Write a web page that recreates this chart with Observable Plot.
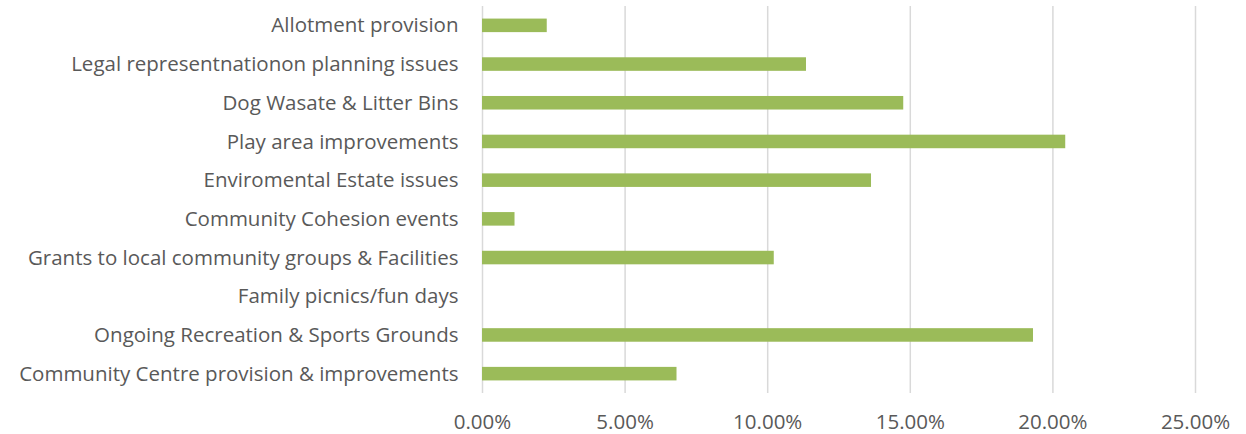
<!DOCTYPE html>
<html>
<head>
<meta charset="utf-8">
<script src="https://cdn.jsdelivr.net/npm/d3@7"></script>
<script src="https://cdn.jsdelivr.net/npm/@observablehq/plot@0.6"></script>
<style>
  html, body { margin: 0; padding: 0; background: #fff; }
</style>
</head>
<body>
<div id="chart"></div>
<script>
// Funding priorities, share of responses (%)
const categories = [
  "Allotment provision",
  "Legal representnationon planning issues",
  "Dog Wasate & Litter Bins",
  "Play area improvements",
  "Enviromental Estate issues",
  "Community Cohesion events",
  "Grants to local community groups & Facilities",
  "Family picnics/fun days",
  "Ongoing Recreation & Sports Grounds",
  "Community Centre provision & improvements"
];
const shares = [2.27, 11.36, 14.77, 20.45, 13.64, 1.14, 10.23, 0, 19.32, 6.82];
const xTicks = [0, 5, 10, 15, 20, 25];

const rows = categories.map((c, i) => ({category: c, share: shares[i]}));

const font = "'Open Sans', Lato, sans-serif";

const chart = Plot.plot({
  width: 1246,
  height: 434,
  marginLeft: 482,
  marginRight: 51,
  marginTop: 6,
  marginBottom: 41,
  style: {
    fontFamily: font,
    fontSize: "20.5px",
    color: "#595959",
    background: "#fff"
  },
  x: {domain: [0, 25], label: null},
  y: {domain: categories, paddingInner: 0.65, paddingOuter: 0.325, round: false, label: null},
  marks: [
    Plot.ruleX(xTicks, {stroke: "#D9D9D9", strokeWidth: 1.5}),
    Plot.barX(rows, {x: "share", y: "category", fill: "#9BBB59"}),
    Plot.axisX({
      ticks: xTicks,
      tickFormat: d => d.toFixed(2) + "%",
      tickSize: 0,
      tickPadding: 21,
      fontSize: 20.5,
      fill: "#595959",
      label: null
    }),
    Plot.axisY({
      tickSize: 0,
      tickPadding: 24,
      fontSize: 20.5,
      fill: "#595959",
      label: null
    })
  ]
});
document.getElementById("chart").appendChild(chart);
</script>
</body>
</html>
